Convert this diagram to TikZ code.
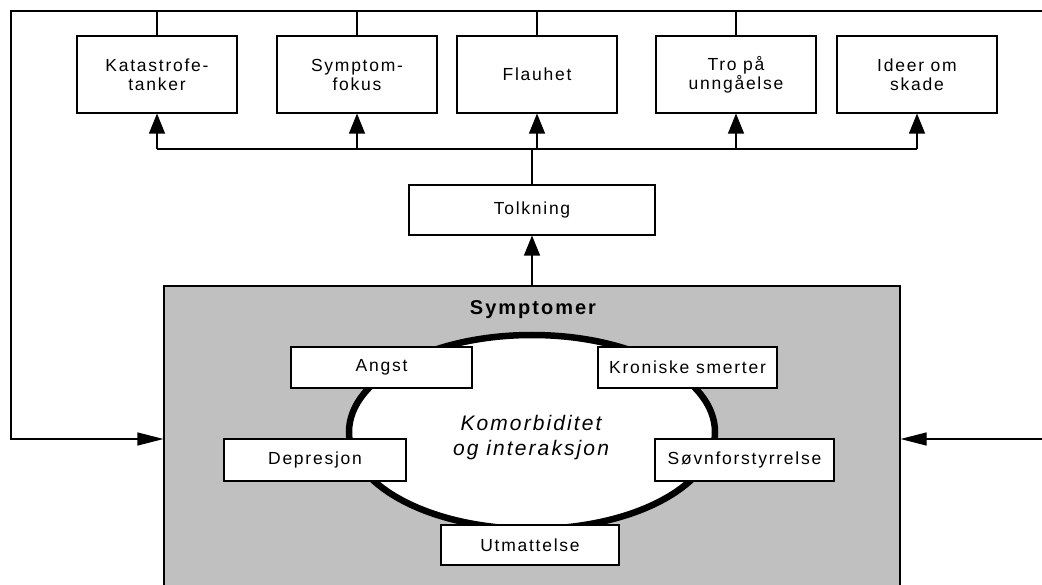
\documentclass[tikz,border=0pt]{standalone}
\usepackage{fontspec}
\newfontfamily\rf[LetterSpace=10]{Liberation Sans}
\usetikzlibrary{arrows.meta,shapes.geometric}
\definecolor{symgray}{HTML}{C0C0C0}
\tikzset{
  ln/.style={line width=1.1pt, draw=black},
  arr/.style={ln, -{Triangle[length=20pt,width=16pt]}},
  sarr/.style={ln, -{Triangle[length=26pt,width=13pt]}},
  box/.style={draw=black, line width=1.1pt, fill=white, inner sep=0pt, align=center,
    font=\rf\fontsize{17.5}{19}\selectfont},
  topbox/.style={box, minimum width=160pt, minimum height=77pt},
  symbox/.style={box, minimum width=180pt, minimum height=41pt},
}
\begin{document}
\begin{tikzpicture}[x=1pt,y=-1pt]
\useasboundingbox (0,0) rectangle (1042,585);
% symptom area
\node[draw=black, line width=1.1pt, fill=symgray, minimum width=736pt, minimum height=306pt, inner sep=0pt] (sympt) at (532,439) {};
\node[font=\rf\bfseries\fontsize{20}{22}\selectfont, inner sep=0pt] (symlab) at (533,310) {Symptomer};
\node[ellipse, draw=black, line width=6.5pt, fill=white, minimum width=366pt, minimum height=194pt, inner sep=0pt] (ring) at (532,432) {};
\node[align=center, inner sep=0pt, font=\rf\itshape\fontsize{21}{25}\selectfont] (komo) at (531,438) {Komorbiditet\\og interaksjon};
\node[symbox, minimum width=181pt] (angst) at (381.5,367.5) {Angst};
\node[symbox, minimum width=179pt] (kron) at (687.5,367.5) {Kroniske smerter};
\node[symbox, minimum width=182pt, minimum height=42pt] (depr) at (315,460) {Depresjon};
\node[symbox, minimum width=179pt, minimum height=42pt] (sovn) at (744.5,460) {Søvnforstyrrelse};
\node[symbox, minimum width=178pt, minimum height=40pt] (utm) at (530,545) {Utmattelse};
% top boxes
\node[topbox] (kat) at (157,74.5) {Katastrofe-\\tanker};
\node[topbox] (sfo) at (357,74.5) {Symptom-\\fokus};
\node[topbox] (fla) at (537,74.5) {Flauhet};
\node[topbox] (tro) at (736,74.5) {Tro på\\unngåelse};
\node[topbox] (ide) at (917,74.5) {Ideer om\\skade};
\node[box, minimum width=246pt, minimum height=50pt] (tolk) at (532,210) {Tolkning};
% outer feedback lines
\coordinate (tl) at (11,11);
\coordinate (tr) at (1044,11);
\coordinate (bl) at (11,439);
\coordinate (rr) at (1044,439);
\coordinate (bus) at (0,149);
\draw[sarr] (tr) -- (tl) -- (bl) -- (sympt.west);
\draw[sarr] (rr) -- (sympt.east);
\foreach \b in {kat,sfo,fla,tro}{\draw[ln] (\b.north) -- (\b.north |- tl);}
% interpretation bus
\draw[ln] (kat.south |- bus) -- (ide.south |- bus);
\foreach \b in {kat,sfo,fla,tro,ide}{\draw[arr] (\b.south |- bus) -- (\b.south);}
\draw[ln] (tolk.north) -- (tolk.north |- bus);
\draw[arr] (sympt.north -| tolk.south) -- (tolk.south);
\end{tikzpicture}
\end{document}
